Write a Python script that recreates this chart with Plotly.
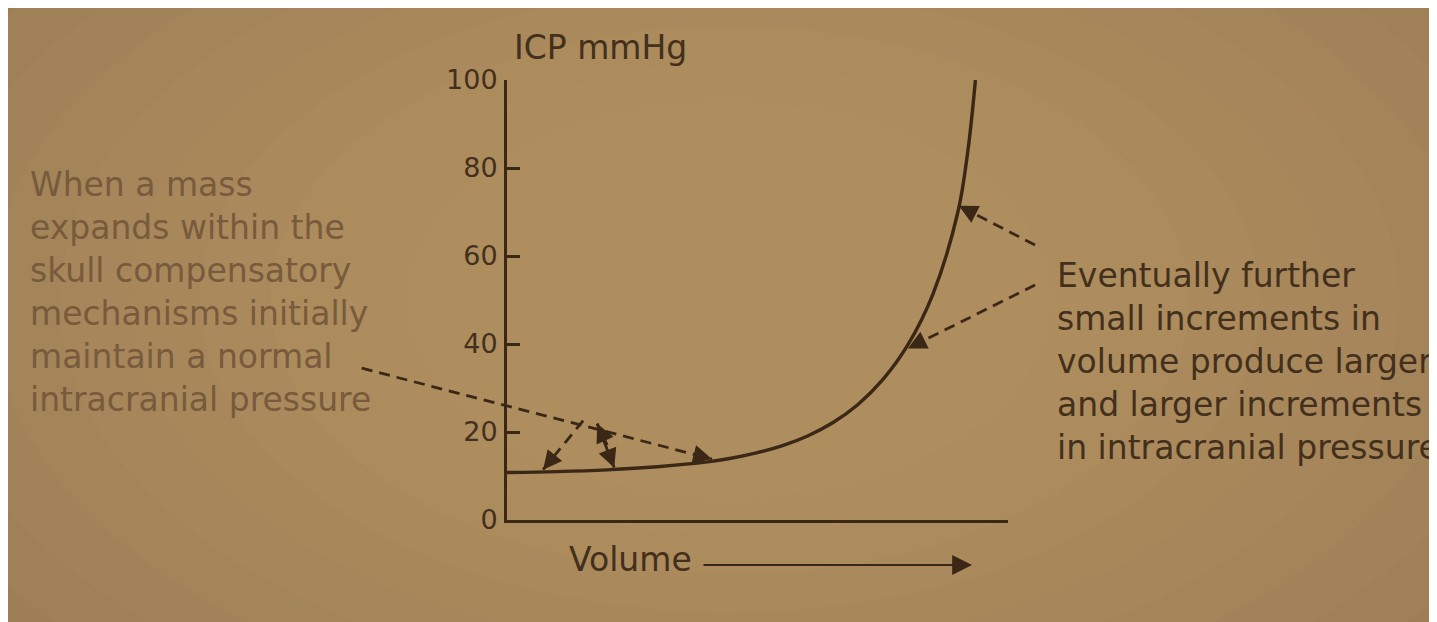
import math
import plotly.graph_objects as go

# ---------------- data ----------------
volume = [0, 1, 2, 3, 4, 4.5, 5, 5.5, 6, 6.5, 7, 7.5, 8, 8.5, 9, 9.2, 9.35]
icp = [10.8, 11.0, 11.4, 12.1, 13.2, 14.1, 15.3, 16.9, 19.1, 22.1, 26.2, 31.9, 39.8, 51.3, 70.0, 84.0, 100.0]
y_ticks = [0, 20, 40, 60, 80, 100]

y_title = "ICP mmHg"
x_title = "Volume"
left_note = ["When a mass", "expands within the", "skull compensatory",
             "mechanisms initially", "maintain a normal", "intracranial pressure"]
right_note = ["Eventually further", "small increments in", "volume produce larger",
              "and larger increments", "in intracranial pressure"]

# ---------------- layout constants ----------------
W, H = 1437, 622
OFF = 8  # page offset of the figure inside the screenshot
X0px, X1px = 507 - OFF, 1008 - OFF
Y0px, Y100px = 520 - OFF, 80 - OFF
XMAX, YMAX = 10.0, 100.0
xdom = [X0px / W, X1px / W]
ydom = [(H - Y0px) / H, (H - Y100px) / H]

INK = "#3a2715"
TXT = "#43301c"
FADED = "#775b3c"
BG = "#9c7c53"


def to_px(v, i):
    return X0px + v / XMAX * (X1px - X0px), Y0px - i / YMAX * (Y0px - Y100px)


def to_paper(xp, yp):
    # xp, yp given in screenshot pixels
    return (xp - OFF) / W, 1 - (yp - OFF) / H


def px_paper(xp, yp):
    # xp, yp in figure pixels
    return xp / W, 1 - yp / H


def curve_at(v):
    for k in range(len(volume) - 1):
        if volume[k] <= v <= volume[k + 1]:
            t = (v - volume[k]) / (volume[k + 1] - volume[k])
            return icp[k] + t * (icp[k + 1] - icp[k])
    return icp[-1]


fig = go.Figure()
fig.add_trace(go.Scatter(x=volume, y=icp, mode="lines",
                         line=dict(color=INK, width=3.4, shape="spline", smoothing=1.0),
                         hoverinfo="skip", showlegend=False))

shapes = []
annotations = []

# soft lighting (photo vignette): many faint ellipses for a smooth gradient
for k in range(10):
    f = 1 - k / 10
    rx, ry = 250 + 700 * f, 160 + 380 * f
    cx, cy = 730, 300
    x0, y0 = to_paper(cx - rx, cy - ry)
    x1, y1 = to_paper(cx + rx, cy + ry)
    shapes.append(dict(type="circle", xref="paper", yref="paper", x0=x0, y0=y1, x1=x1, y1=y0,
                       fillcolor="rgba(205,165,112,0.06)", line=dict(width=0), layer="below"))


def dashed_arrow(tail, tip, head=True):
    # tail/tip in data coordinates
    tx, ty = to_px(*tail)
    hx, hy = to_px(*tip)
    a0 = px_paper(tx, ty)
    a1 = px_paper(hx, hy)
    shapes.append(dict(type="line", xref="paper", yref="paper", x0=a0[0], y0=a0[1], x1=a1[0], y1=a1[1],
                       line=dict(color=INK, width=2.8, dash="11px,7px")))
    if head:
        d = math.hypot(tx - hx, ty - hy)
        ux, uy = (tx - hx) / d, (ty - hy) / d
        annotations.append(dict(x=a1[0], y=a1[1], xref="paper", yref="paper", text="",
                                showarrow=True, ax=ux * 15, ay=uy * 15,
                                arrowhead=2, arrowsize=1.5, arrowwidth=2.5, arrowcolor=INK))


# left annotation arrows
tip_main = (4.09, curve_at(4.09) + 0.5)
dashed_arrow((-2.9, 34.5), tip_main)
apex1 = (1.52, 22.6)
apex2 = (1.80, 21.9)
dashed_arrow(apex1, (0.72, curve_at(0.72) + 0.5))
dashed_arrow(apex2, (2.14, curve_at(2.14) + 0.4))
dashed_arrow((2.0, 17.0), apex2)

# right annotation arrows
dashed_arrow((10.54, 62.5), (9.02, curve_at(9.02)))
dashed_arrow((10.54, 53.4), (8.0, curve_at(8.0) - 0.8))

# texts
FONT = "DejaVu Sans"
px_, py_ = to_paper(600, 47)
annotations.append(dict(x=px_, y=py_, xref="paper", yref="paper", text=y_title, showarrow=False,
                        font=dict(family=FONT, size=33, color=TXT), xanchor="center", yanchor="middle"))
px_, py_ = to_paper(567, 559)
annotations.append(dict(x=px_, y=py_, xref="paper", yref="paper", text=x_title, showarrow=False,
                        font=dict(family=FONT, size=33, color=TXT), xanchor="left", yanchor="middle"))
ax_, ay_ = to_paper(972, 565)
annotations.append(dict(x=ax_, y=ay_, xref="paper", yref="paper", text="", showarrow=True,
                        ax=-270, ay=0, arrowhead=2, arrowsize=1.8, arrowwidth=2.2, arrowcolor=INK))
px_, py_ = to_paper(28, 292)
annotations.append(dict(x=px_, y=py_, xref="paper", yref="paper", text="<br>".join(left_note),
                        showarrow=False, align="left", xanchor="left", yanchor="middle",
                        font=dict(family=FONT, size=33, color=FADED)))
px_, py_ = to_paper(1055, 361)
annotations.append(dict(x=px_, y=py_, xref="paper", yref="paper", text="<br>".join(right_note),
                        showarrow=False, align="left", xanchor="left", yanchor="middle",
                        font=dict(family=FONT, size=33, color=TXT)))

fig.update_layout(
    width=W, height=H, autosize=False,
    margin=dict(l=0, r=0, t=0, b=0, pad=0, autoexpand=False),
    paper_bgcolor=BG, plot_bgcolor="rgba(0,0,0,0)",
    showlegend=False,
    shapes=shapes, annotations=annotations,
    xaxis=dict(domain=xdom, range=[0, XMAX], showgrid=False, zeroline=False,
               showline=True, linecolor=INK, linewidth=3, ticks="", showticklabels=False,
               fixedrange=True, automargin=False),
    yaxis=dict(domain=ydom, range=[0, YMAX], showgrid=False, zeroline=False,
               showline=True, linecolor=INK, linewidth=3, ticks="inside", ticklen=13,
               tickwidth=2.5, tickcolor=INK, tickvals=y_ticks,
               ticktext=[str(t) for t in y_ticks], ticklabelstandoff=1,
               tickfont=dict(family=FONT, size=27, color=TXT), fixedrange=True, automargin=False),
)

fig.write_html("out.html")
